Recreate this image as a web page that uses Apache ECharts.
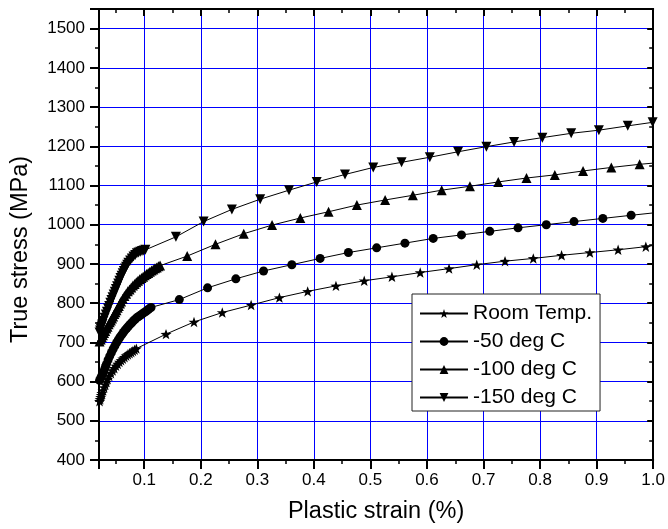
<!DOCTYPE html>
<html><head><meta charset="utf-8">
<script src="https://cdn.jsdelivr.net/npm/echarts@6/dist/echarts.min.js"></script>
<style>html,body{margin:0;padding:0;background:#fff}#c{width:668px;height:529px}</style>
</head><body><div id="c"></div>
<script>
// ---- data (strain %, true stress MPa) ----
const seriesNames = ['Room Temp.', '-50 deg C', '-100 deg C', '-150 deg C'];

const rtBand = [[0.021,550],[0.022,555],[0.023,560],[0.024,565],[0.025,570],[0.027,577],[0.029,585],[0.031,592],[0.033,599],[0.035,606],[0.038,614],[0.041,621],[0.044,628],[0.047,634],[0.050,640],[0.053,645],[0.056,650],[0.059,654],[0.062,658],[0.065,662],[0.068,666],[0.071,669],[0.074,672],[0.077,675],[0.080,678],[0.083,681],[0.086,684]];
const rtMarks = [[0.1385,721],[0.188,752],[0.238,776],[0.289,795],[0.339,814],[0.389,830],[0.439,844],[0.489,857],[0.538,867],[0.588,878],[0.639,888],[0.688,898],[0.738,907],[0.788,914],[0.838,922],[0.888,929],[0.938,936],[0.987,944]];
const rtEnd = [1.0,947];

const m50Band = [[0.021,603],[0.023,609],[0.025,615],[0.027,621],[0.029,628],[0.031,636],[0.033,644],[0.036,655],[0.039,665],[0.042,674],[0.045,683],[0.048,691],[0.051,699],[0.054,706],[0.057,713],[0.060,719],[0.063,725],[0.066,731],[0.069,736],[0.072,741],[0.075,746],[0.078,750],[0.081,755],[0.084,759],[0.087,763],[0.090,766],[0.093,769],[0.096,772],[0.099,775],[0.102,778],[0.105,781],[0.108,785],[0.112,789]];
const m50Marks = [[0.162,809],[0.212,839],[0.262,862],[0.311,882],[0.361,898],[0.411,914],[0.461,929],[0.511,941],[0.561,953],[0.611,965],[0.661,974],[0.711,983],[0.761,992],[0.811,1000],[0.860,1008],[0.911,1016],[0.961,1024]];
const m50End = [1.0,1030];

const m100Band = [[0.021,702],[0.023,707],[0.025,713],[0.027,718],[0.029,724],[0.031,729],[0.033,735],[0.035,740],[0.037,746],[0.039,751],[0.041,756],[0.043,761],[0.045,766],[0.047,772],[0.049,777],[0.051,782],[0.053,788],[0.055,793],[0.057,799],[0.059,804],[0.062,811],[0.065,818],[0.068,824],[0.071,830],[0.074,835],[0.077,840],[0.080,845],[0.083,849],[0.086,853],[0.089,857],[0.092,861],[0.095,864],[0.098,867],[0.101,871],[0.104,874],[0.107,877],[0.110,880],[0.113,883],[0.116,886],[0.119,889],[0.122,891],[0.125,894],[0.128,896]];
const m100Marks = [[0.176,920],[0.226,950],[0.276,977],[0.326,999],[0.376,1017],[0.426,1033],[0.476,1050],[0.526,1063],[0.575,1075],[0.626,1088],[0.676,1098],[0.726,1109],[0.776,1119],[0.826,1127],[0.876,1137],[0.926,1146],[0.976,1154]];
const m100End = [1.0,1157];

const m150Band = [[0.021,725],[0.022,730],[0.023,735],[0.024,739],[0.025,743],[0.026,747],[0.028,755],[0.030,763],[0.032,771],[0.034,778],[0.036,786],[0.038,793],[0.040,801],[0.042,808],[0.044,815],[0.046,822],[0.048,829],[0.050,836],[0.052,843],[0.054,850],[0.056,857],[0.058,864],[0.060,870],[0.062,876],[0.064,882],[0.066,888],[0.068,893],[0.070,898],[0.072,903],[0.075,909],[0.078,914],[0.081,919],[0.084,923],[0.087,927],[0.090,929],[0.093,931],[0.096,933],[0.099,934],[0.102,936]];
const m150Marks = [[0.156,969],[0.205,1008],[0.255,1039],[0.305,1065],[0.356,1088],[0.405,1109],[0.455,1128],[0.505,1146],[0.555,1159],[0.605,1172],[0.655,1186],[0.705,1199],[0.754,1211],[0.804,1222],[0.855,1233],[0.904,1241],[0.955,1252],[0.999,1261]];

// ---- styling ----
const FONT = "'Liberation Sans', Arial, sans-serif";
const STAR = 'path://M0,-10L2.351,-3.236L9.511,-3.090L3.804,1.236L5.878,8.090L0,4L-5.878,8.090L-3.804,1.236L-9.511,-3.090L-2.351,-3.236Z';
const GRIDBLUE = '#0000ff';

function build(name, band, marks, end, symbol, size, rotate) {
  const data = band.concat(marks).map(p => ({ value: p }));
  if (end) data.push({ value: end, symbol: 'none' });
  return {
    name, type: 'line', data, symbol, symbolSize: size, symbolRotate: rotate || 0,
    symbolKeepAspect: true, showAllSymbol: true, clip: true,
    lineStyle: { color: '#000', width: 1 }, itemStyle: { color: '#000' },
    emphasis: { disabled: true }, z: 3
  };
}

const axisLineStyle = { color: '#000', width: 2 };
const xCommon = { type: 'value', min: 0.02, max: 1.0, splitNumber: 10 };
const yCommon = { type: 'value', min: 400, max: 1550, interval: 100 };

const option = {
  animation: false,
  backgroundColor: '#fff',
  grid: { left: 99, right: 10, top: 9, bottom: 69 },
  xAxis: [
    Object.assign({}, xCommon, {
      position: 'bottom',
      axisLine: { show: true, onZero: false, lineStyle: axisLineStyle },
      axisTick: { show: true, inside: false, length: 9, lineStyle: { color: '#000', width: 2 } },
      minorTick: { show: true, splitNumber: 2, length: 4, lineStyle: { color: '#000', width: 1.5 } },
      axisLabel: { showMinLabel: false, color: '#000', fontSize: 17, fontFamily: FONT, margin: 12,
        formatter: v => v.toFixed(1) },
      splitLine: { show: true, lineStyle: { color: GRIDBLUE, width: 1 } },
      name: 'Plastic strain (%)', nameLocation: 'middle', nameGap: 40,
      nameTextStyle: { color: '#000', fontSize: 23.5, fontFamily: FONT }
    }),
    Object.assign({}, xCommon, {
      position: 'top',
      axisLine: { show: true, onZero: false, lineStyle: axisLineStyle },
      axisTick: { show: true, inside: true, length: 7, lineStyle: { color: '#000', width: 2 } },
      minorTick: { show: true, splitNumber: 2, length: 4, lineStyle: { color: '#000', width: 1.5 } },
      axisLabel: { show: false }, splitLine: { show: false }
    })
  ],
  yAxis: [
    Object.assign({}, yCommon, {
      position: 'left',
      axisLine: { show: true, onZero: false, lineStyle: axisLineStyle },
      axisTick: { show: true, inside: false, length: 9, lineStyle: { color: '#000', width: 2 } },
      minorTick: { show: true, splitNumber: 2, length: 4, lineStyle: { color: '#000', width: 1.5 } },
      axisLabel: { showMaxLabel: false, color: '#000', fontSize: 17, fontFamily: FONT, margin: 14,
        formatter: v => String(v) },
      splitLine: { show: true, lineStyle: { color: GRIDBLUE, width: 1 } },
      name: 'True stress (MPa)', nameLocation: 'middle', nameGap: 66,
      nameTextStyle: { color: '#000', fontSize: 23.5, fontFamily: FONT, padding: [0, 30, 0, 0] }
    }),
    Object.assign({}, yCommon, {
      position: 'right',
      axisLine: { show: true, onZero: false, lineStyle: axisLineStyle },
      axisTick: { show: true, inside: true, length: 6, lineStyle: { color: '#000', width: 2 } },
      minorTick: { show: true, splitNumber: 2, length: 4, lineStyle: { color: '#000', width: 1.5 } },
      axisLabel: { show: false }, splitLine: { show: false }
    })
  ],
  legend: {
    orient: 'vertical', left: 412, top: 294, itemWidth: 48, itemHeight: 11, itemGap: 5,
    padding: [8, 8, 2, 7], backgroundColor: '#fff', borderColor: '#222', borderWidth: 1,
    selectedMode: false, data: seriesNames,
    textStyle: { color: '#000', fontSize: 21, fontFamily: FONT, lineHeight: 23 }
  },
  series: [
    build(seriesNames[0], rtBand, rtMarks, rtEnd, STAR, 11),
    build(seriesNames[1], m50Band, m50Marks, m50End, 'circle', 9),
    build(seriesNames[2], m100Band, m100Marks, m100End, 'triangle', 10),
    build(seriesNames[3], m150Band, m150Marks, null, 'triangle', 10, 180)
  ]
};

const chart = echarts.init(document.getElementById('c'), null, { renderer: 'canvas' });
chart.setOption(option);
</script></body></html>
